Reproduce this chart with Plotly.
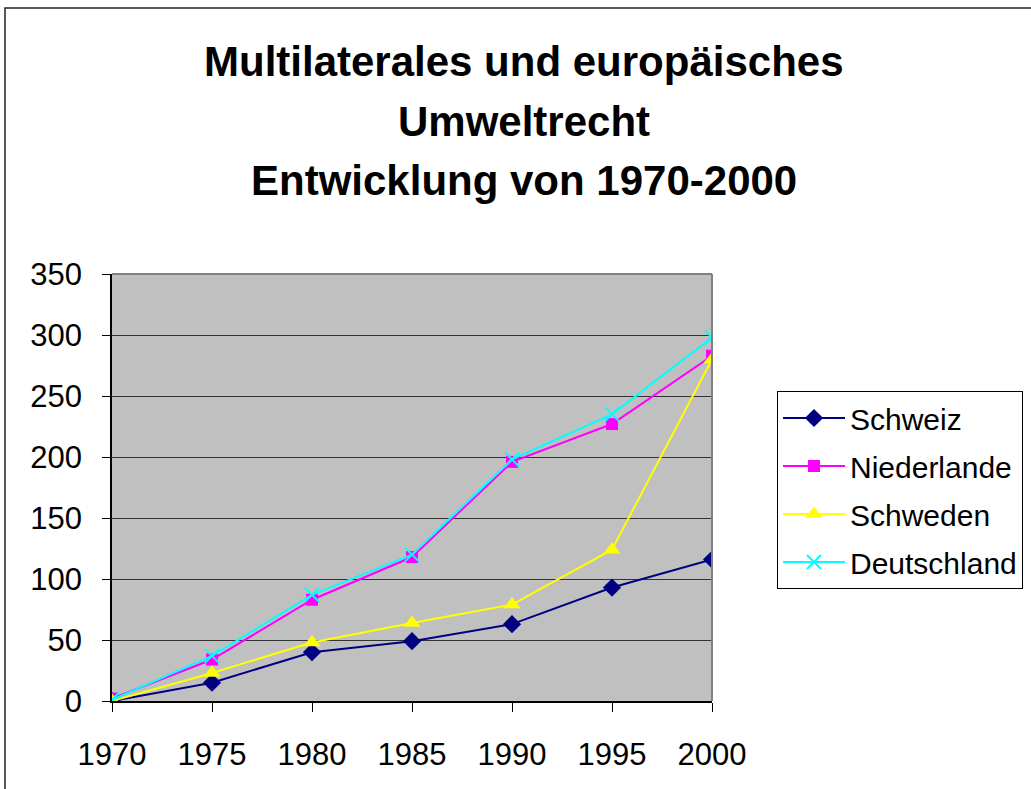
import plotly.graph_objects as go

years = [1970, 1975, 1980, 1985, 1990, 1995, 2000]
schweiz = [0, 15, 40, 49, 63, 93, 116]
niederlande = [2, 34, 83, 118, 196, 227, 283]
schweden = [0, 23, 48, 64, 79, 124, 280]
deutschland = [1, 37, 87, 120, 198, 235, 298]

title_lines = ["Multilaterales und europäisches", "Umweltrecht", "Entwicklung von 1970-2000"]

FONT = "Liberation Sans, Arial, sans-serif"

fig = go.Figure()
series = [
    ("Schweiz", schweiz, "#000080", "diamond", 14),
    ("Niederlande", niederlande, "#FF00FF", "square", 12),
    ("Schweden", schweden, "#FFFF00", "triangle-up", 15),
    ("Deutschland", deutschland, "#00FFFF", "x-thin", 14),
]
for i, (name, vals, col, sym, sz) in enumerate(series):
    marker = dict(symbol=sym, size=sz, color=col)
    if sym == "x-thin":
        marker["line"] = dict(color=col, width=2)
    fig.add_trace(go.Scatter(
        x=years, y=vals, name=name, mode="lines+markers",
        line=dict(color=col, width=2), marker=marker,
        legendgroup=f"g{i}",
    ))

W, H = 1031, 789
L, R, T, B = 112, 712, 274, 701
fig.update_layout(
    width=W, height=H,
    margin=dict(l=L, r=W - R, t=T, b=H - B, autoexpand=False),
    paper_bgcolor="white",
    plot_bgcolor="#C0C0C0",
    font=dict(family=FONT, color="black"),
    showlegend=True,
    legend=dict(
        x=(777 - L) / (R - L), y=1 - (391 - T) / (B - T),
        xanchor="left", yanchor="top",
        bordercolor="black", borderwidth=1,
        font=dict(size=30, family=FONT),
        traceorder="grouped", tracegroupgap=6,
        itemwidth=62,
    ),
    xaxis=dict(
        range=[1970, 2000], tickvals=years, ticktext=[str(y) for y in years],
        showgrid=False, zeroline=False, showline=True, linecolor="black", linewidth=1.5,
        ticks="outside", ticklen=9, tickcolor="black",
        tickfont=dict(size=31, family=FONT), ticklabelstandoff=16,
    ),
    yaxis=dict(
        range=[0, 350], tickvals=[0, 50, 100, 150, 200, 250, 300, 350],
        showgrid=True, gridcolor="#333333", gridwidth=1, zeroline=False,
        showline=True, linecolor="black", linewidth=1.5,
        ticks="outside", ticklen=8, tickcolor="black",
        tickfont=dict(size=31, family=FONT), ticklabelstandoff=14,
    ),
)

# plot area top/right border
fig.add_shape(type="line", xref="paper", yref="paper", x0=0, x1=1, y0=1, y1=1,
              line=dict(color="#808080", width=2))
fig.add_shape(type="line", xref="paper", yref="paper", x0=1, x1=1, y0=0, y1=1,
              line=dict(color="#808080", width=2))

# outer chart border
px = lambda v: (v - L) / (R - L)
py = lambda v: 1 - (v - T) / (B - T)
fig.add_shape(type="rect", xref="paper", yref="paper",
              x0=px(5), x1=px(1040), y0=py(800), y1=py(8),
              line=dict(color="#222222", width=1.5), fillcolor="rgba(0,0,0,0)")

# title lines
centers = [62, 121, 180]
for txt, cy in zip(title_lines, centers):
    fig.add_annotation(text=f"<b>{txt}</b>", xref="paper", yref="paper",
                       x=px(524), y=py(cy), xanchor="center", yanchor="middle",
                       showarrow=False, font=dict(size=42, family=FONT, color="black"))

fig.write_html("out.html", config={"displayModeBar": False},
               post_script="document.body.style.margin='0';document.body.style.overflow='hidden';")
